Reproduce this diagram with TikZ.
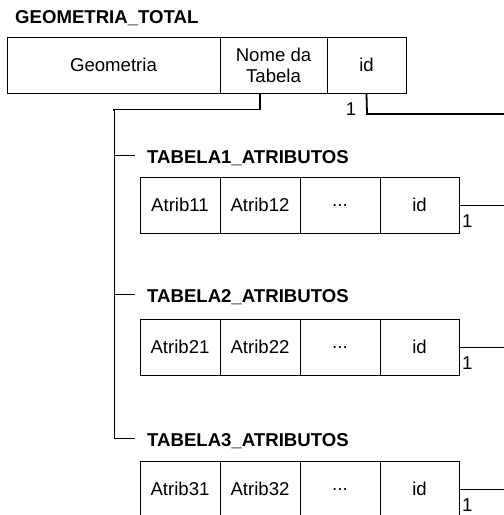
\documentclass[tikz,border=0pt]{standalone}
\usepackage{fontspec}
\setmainfont{Liberation Sans}
\tikzset{
  cell/.style={draw, line width=0.8pt, inner sep=0pt, outer sep=0pt, anchor=north west,
    minimum height=56.5pt, font=\fontsize{18.6}{20.5}\selectfont, align=center},
  ttl/.style={inner sep=0pt, anchor=west, font=\fontsize{18.6}{20.5}\selectfont\bfseries},
  lbl/.style={inner sep=0pt, font=\fontsize{18.6}{20.5}\selectfont},
  thinline/.style={line width=0.8pt},
  thickline/.style={line width=1.8pt},
}
\begin{document}
\begin{tikzpicture}[x=1pt,y=-1pt]
\useasboundingbox (0,0) rectangle (504,515);
\clip (0,0) rectangle (504,515);
\coordinate (edge) at (504,0);
% top table
\node[ttl] (gtitle) at (15,18) {GEOMETRIA\_TOTAL};
\node[cell, minimum width=213pt] (geo) at (7,37) {Geometria};
\node[cell, minimum width=107pt] (nome) at (220,37) {Nome da\\Tabela};
\node[cell, minimum width=79pt] (idT) at (327,37) {id};
% id connector
\coordinate (idc) at (367,114);
\draw[thickline] (idT.south) -- (idc) -- (idc -| edge);
\node[lbl] (oneT) at (351,109.5) {1};
% nome connector
\coordinate (ns) at (260,93.5);
\coordinate (bend) at (114,109.5);
\draw[thickline] (ns) |- (bend) -- ++(0,1);
\coordinate (vend) at (114,438);
\draw[thinline] (bend) -- (vend);
% sub tables
\foreach \i/\top/\tk in {1/177/155, 2/319/294, 3/461/438}{
  \coordinate (tk\i) at (114,\tk);
  \coordinate (tke\i) at (135,\tk);
  \draw[thinline] (tk\i) -- (tke\i);
  \node[ttl] (title\i) at (147,\tk+3) {TABELA\i\_ATRIBUTOS};
  \node[cell, minimum width=80pt] (a\i) at (140,\top) {Atrib\i1};
  \node[cell, minimum width=80pt] (b\i) at (220,\top) {Atrib\i2};
  \node[cell, minimum width=80pt] (c\i) at (300,\top) {...};
  \node[cell, minimum width=79pt] (id\i) at (380,\top) {id};
  \draw[thinline] (id\i.east) -- (id\i.east -| edge);
  \node[lbl, anchor=north west] (one\i) at ([xshift=3pt,yshift=-9.5pt]id\i.east) {1};
}
\end{tikzpicture}
\end{document}
